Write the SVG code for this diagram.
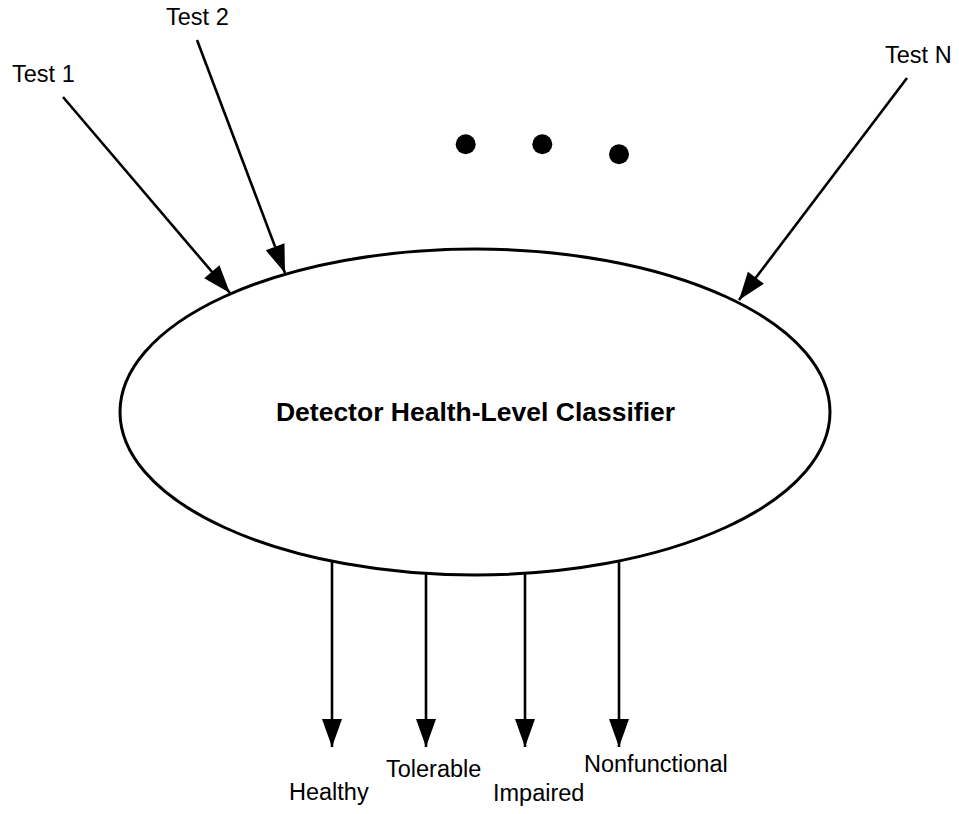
<svg xmlns="http://www.w3.org/2000/svg" width="959" height="814" viewBox="0 0 959 814">
<style>
.lbl{font-family:"Liberation Sans",Arial,sans-serif;font-size:23.5px;fill:#000}
.title{font-family:"Liberation Sans",Arial,sans-serif;font-size:26.5px;font-weight:bold;fill:#000}
.conn{stroke:#000;stroke-width:2.6;fill:none}
</style>
<defs>
<marker id="ah" markerUnits="userSpaceOnUse" markerWidth="30" markerHeight="22" refX="28" refY="10" orient="auto" overflow="visible">
<path d="M0,0 L28,10 L0,20 Z" fill="#000"/>
</marker>
</defs>
<rect width="959" height="814" fill="#fff"/>
<g id="classifier">
<ellipse cx="475" cy="412" rx="355" ry="163" fill="#fff" stroke="#000" stroke-width="3"/>
<text class="title" x="475.5" y="421" text-anchor="middle">Detector Health-Level Classifier</text>
</g>
<g id="test1"><text class="lbl" x="12" y="82">Test 1</text></g>
<g id="test2"><text class="lbl" x="166" y="25">Test 2</text></g>
<g id="testN"><text class="lbl" x="885" y="63">Test N</text></g>
<g id="ellipsis">
<circle cx="465.7" cy="144.3" r="10"/>
<circle cx="542.3" cy="144.3" r="10"/>
<circle cx="619" cy="154.3" r="10"/>
</g>
<g id="healthy"><text class="lbl" x="289" y="800">Healthy</text></g>
<g id="tolerable"><text class="lbl" x="386" y="777">Tolerable</text></g>
<g id="impaired"><text class="lbl" x="493" y="801">Impaired</text></g>
<g id="nonfunctional"><text class="lbl" x="584" y="772">Nonfunctional</text></g>
<g id="connectors">
<line class="conn" x1="63" y1="97" x2="230" y2="293" marker-end="url(#ah)"/>
<line class="conn" x1="197" y1="40" x2="285" y2="273" marker-end="url(#ah)"/>
<line class="conn" x1="907" y1="78" x2="739" y2="300" marker-end="url(#ah)"/>
<line class="conn" x1="332" y1="561" x2="332" y2="747" marker-end="url(#ah)"/>
<line class="conn" x1="426" y1="573" x2="426" y2="747" marker-end="url(#ah)"/>
<line class="conn" x1="525" y1="573" x2="525" y2="747" marker-end="url(#ah)"/>
<line class="conn" x1="619" y1="561" x2="619" y2="747" marker-end="url(#ah)"/>
</g>
</svg>
